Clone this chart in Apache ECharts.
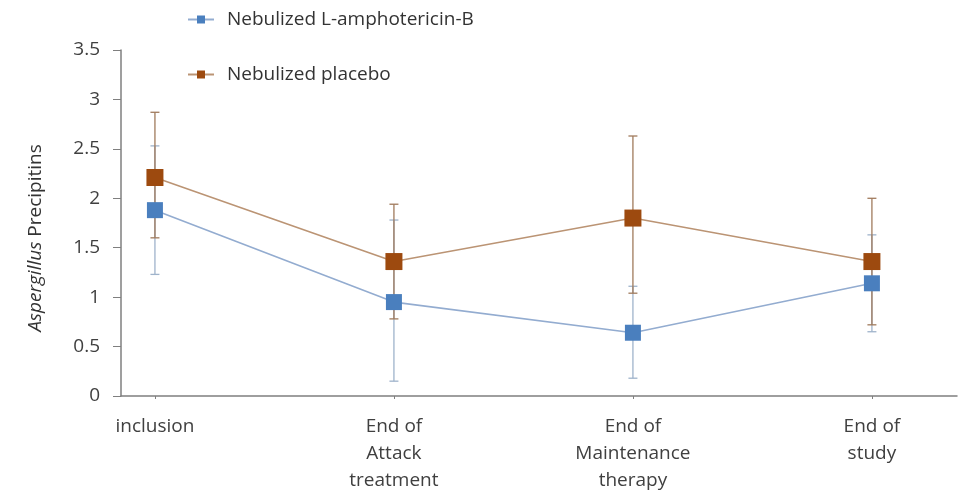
<!DOCTYPE html>
<html>
<head>
<meta charset="utf-8">
<script src="https://cdn.jsdelivr.net/npm/echarts@6/dist/echarts.min.js"></script>
<style>html,body{margin:0;padding:0;background:#fff}#c{width:967px;height:494px}</style>
</head>
<body>
<div id="c"></div>
<script>
var categories = ['inclusion', 'End of\nAttack\ntreatment', 'End of\nMaintenance\ntherapy', 'End of\nstudy'];
var yTicks = [0, 0.5, 1, 1.5, 2, 2.5, 3, 3.5];
var amphoMean = [1.88, 0.95, 0.64, 1.14];
var amphoLow = [1.23, 0.15, 0.18, 0.65];
var amphoHigh = [2.53, 1.78, 1.11, 1.63];
var placeboMean = [2.21, 1.36, 1.80, 1.36];
var placeboLow = [1.60, 0.78, 1.04, 0.72];
var placeboHigh = [2.87, 1.94, 2.63, 2.00];
var seriesNames = ['Nebulized L-amphotericin-B', 'Nebulized placebo'];

var FONT = '"Open Sans"';
var catIdx = categories.map(function (c, i) { return i; });

function pts(mean) { return mean.map(function (v, i) { return [i, v]; }); }
function errs(lo, hi) { return lo.map(function (v, i) { return [i, v, hi[i]]; }); }

function errRender(color) {
  return function (params, api) {
    var x = api.value(0);
    var p1 = api.coord([x, api.value(1)]);
    var p2 = api.coord([x, api.value(2)]);
    var cw = 4.5;
    var st = { stroke: color, lineWidth: 1.3 };
    return {
      type: 'group',
      children: [
        { type: 'line', shape: { x1: p1[0], y1: p1[1], x2: p2[0], y2: p2[1] }, style: st },
        { type: 'line', shape: { x1: p1[0] - cw, y1: p1[1], x2: p1[0] + cw, y2: p1[1] }, style: st },
        { type: 'line', shape: { x1: p2[0] - cw, y1: p2[1], x2: p2[0] + cw, y2: p2[1] }, style: st }
      ]
    };
  };
}

var chart = echarts.init(document.getElementById('c'));
chart.setOption({
  animation: false,
  backgroundColor: '#ffffff',
  textStyle: { fontFamily: FONT },
  grid: { left: 121, right: 10, top: 50, bottom: 97 },
  legend: {
    orient: 'vertical',
    left: 182, top: 5,
    itemGap: 36,
    itemWidth: 26, itemHeight: 10,
    textStyle: { fontFamily: FONT, fontSize: 19, color: '#333333', padding: [0, 0, 0, 8] },
    data: seriesNames
  },
  xAxis: {
    type: 'value',
    min: -0.142, max: 3.356,
    splitLine: { show: false },
    axisLine: { show: true, onZero: false, lineStyle: { color: '#7f7f7f', width: 1.5 } },
    axisTick: { show: true, customValues: catIdx, length: 3, lineStyle: { color: '#7f7f7f' } },
    axisLabel: {
      customValues: catIdx,
      formatter: function (v) { return categories[Math.round(v)]; },
      fontFamily: FONT, fontSize: 19, color: '#404040', lineHeight: 27, margin: 17, align: 'center'
    }
  },
  yAxis: {
    type: 'value',
    min: yTicks[0], max: yTicks[yTicks.length - 1], interval: 0.5,
    splitLine: { show: false },
    axisLine: { show: true, onZero: false, lineStyle: { color: '#7f7f7f', width: 1.5 } },
    axisTick: { show: true, inside: false, length: 8, lineStyle: { color: '#7f7f7f' } },
    axisLabel: { fontFamily: FONT, fontSize: 19, color: '#404040', margin: 21 },
    name: '{i|Aspergillus} Precipitins',
    nameLocation: 'middle',
    nameGap: 76,
    nameRotate: 90,
    nameTextStyle: {
      fontFamily: FONT, fontSize: 19, color: '#333333',
      padding: [0, 30, 0, 0],
      rich: { i: { fontStyle: 'italic', fontFamily: FONT, fontSize: 19, color: '#333333' } }
    }
  },
  series: [
    {
      type: 'custom', name: 'errA', renderItem: errRender('#9fb3cb'),
      data: errs(amphoLow, amphoHigh), z: 1, silent: true
    },
    {
      type: 'custom', name: 'errP', renderItem: errRender('#a07a5c'),
      data: errs(placeboLow, placeboHigh), z: 2, silent: true
    },
    {
      type: 'line', name: seriesNames[0], data: pts(amphoMean),
      symbol: 'rect', symbolSize: 16,
      lineStyle: { color: '#93acd0', width: 1.6 },
      itemStyle: { color: '#4a7fbe' },
      z: 3
    },
    {
      type: 'line', name: seriesNames[1], data: pts(placeboMean),
      symbol: 'rect', symbolSize: 17,
      lineStyle: { color: '#bb9474', width: 1.6 },
      itemStyle: { color: '#9d4a0f' },
      z: 4
    }
  ]
});
</script>
</body>
</html>
